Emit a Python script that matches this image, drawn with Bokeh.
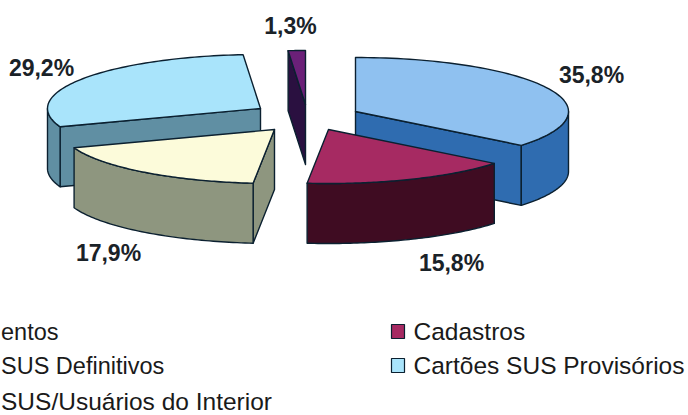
import numpy as np
from bokeh.plotting import figure
from bokeh.models import Range1d
from bokeh.core.properties import value
from bokeh.embed import file_html
from bokeh.resources import INLINE

# data
shares = [35.8, 15.8, 17.9, 29.2, 1.3]
share_labels = ["35,8%", "15,8%", "17,9%", "29,2%", "1,3%"]
legend_left = ["entos", "SUS Definitivos", "SUS/Usuários do Interior"]
legend_right = ["Cadastros", "Cartões SUS Provisórios"]

# layout
W, H = 688, 415
RX, RY, DEPTH = 213, 54, 60
centers = [(355, 111), (328, 129), (274, 129), (260, 108), (305, 104)]
top_colors = ["#8FC1F0", "#A62A62", "#FCFBDA", "#A9E4FB", "#6B2078"]
side_colors = ["#2F6CB0", "#3F0C22", "#8E967F", "#608FA3", "#2A1040"]
paint_order = [3, 0, 4, 2, 1]
label_pos = [(591, 74), (451, 262), (108, 252), (41, 67), (290, 25)]
legend_left_y = [331, 365, 401]
legend_left_size = ["23.5px", "23.5px", "24.5px"]
legend_right_y = [331, 365]
OUTLINE = "#0B2030"

p = figure(width=W, height=H, output_backend="svg", toolbar_location=None,
           x_range=Range1d(0, W), y_range=Range1d(H, 0), min_border=0)
p.axis.visible = False
p.grid.visible = False
p.outline_line_color = None


def rim(c, t):
    t = np.radians(t)
    return c[0] + RX * np.sin(t), c[1] - RY * np.cos(t)


def poly(xs, ys, fill):
    p.patch(list(xs), list(ys), fill_color=fill, line_color=OUTLINE,
            line_width=1.4, line_join="round")


edges = np.concatenate([[0], np.cumsum(shares)]) * 3.6
edges = edges / edges[-1] * 360

for i in paint_order:
    c, t1, t2 = centers[i], edges[i], edges[i + 1]
    arc = np.linspace(t1, t2, 80)
    ax, ay = rim(c, arc)
    # cut faces turned towards the viewer
    for t, visible in ((t1, -np.sin(np.radians(t1)) > 1e-6),
                       (t2, np.sin(np.radians(t2)) > 1e-6)):
        if visible:
            ex, ey = rim(c, t)
            poly([c[0], ex, ex, c[0]], [c[1], ey, ey + DEPTH, c[1] + DEPTH],
                 side_colors[i])
    # outer wall, front half of the rim only
    lo, hi = max(t1, 90), min(t2, 270)
    if hi > lo:
        w = np.linspace(lo, hi, 60)
        wx, wy = rim(c, w)
        poly(np.r_[wx, wx[::-1]], np.r_[wy, wy[::-1] + DEPTH], side_colors[i])
    # top face
    poly(np.r_[c[0], ax], np.r_[c[1], ay], top_colors[i])

# value labels
p.text([q[0] for q in label_pos], [q[1] for q in label_pos], text=share_labels,
       text_font=value("Liberation Sans"), text_font_style="bold",
       text_font_size="23px", text_color="#1A2228",
       text_align="center", text_baseline="middle")

# legend
for label, ly, size in zip(legend_left, legend_left_y, legend_left_size):
    p.text([0.5], [ly], text=[label],
           text_font=value("Liberation Sans"), text_font_size=size,
           text_color="#1A1A1A", text_align="left", text_baseline="middle")
p.text([413] * 2, legend_right_y, text=legend_right,
       text_font=value("Liberation Sans"), text_font_size="24.5px",
       text_color="#1A1A1A", text_align="left", text_baseline="middle")
sw_colors = [top_colors[1], top_colors[3]]
sy = np.array(legend_right_y)
p.quad(left=[391] * 2, right=[404] * 2, top=sy - 7, bottom=sy + 7,
       fill_color=sw_colors, line_color=OUTLINE, line_width=1.2)

open("out.html", "w").write(file_html(p, INLINE))
